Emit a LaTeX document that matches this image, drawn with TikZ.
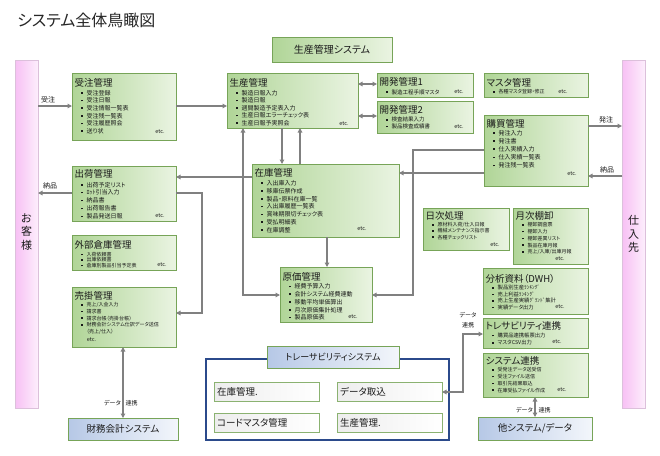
\documentclass[tikz,border=0pt]{standalone}
\usepackage{fontspec}
\setmainfont{Noto Sans CJK JP}[RawFeature=+palt]
\usetikzlibrary{arrows.meta,fit,shadows}
\definecolor{gL}{HTML}{B0D597}
\definecolor{gR}{HTML}{EAF4E2}
\definecolor{gB}{HTML}{77A458}
\definecolor{bL}{HTML}{B6C8E6}
\definecolor{bR}{HTML}{F3F6FB}
\definecolor{pL}{HTML}{F7C0F4}
\definecolor{pR}{HTML}{FDEEFC}
\definecolor{pB}{HTML}{DCC0DB}
\definecolor{navy}{HTML}{2B4A8B}
\definecolor{ag}{HTML}{808080}
\definecolor{tx}{HTML}{1A1A1A}
\newcommand\bl{\makebox[5.5pt][l]{\rule[\dimexpr0.38em-0.8pt\relax]{1.6pt}{1.6pt}}}
% name, corner1, corner2, title, title offset, item style, item offset, items
\newcommand\gb[8]{%
  \node[gbox, fit={(#2)(#3)}] (#1) {};
  \node[ttl] (#1T) at ([xshift=2.5pt,yshift=-#5pt]#1.north west) {#4};
  \node[#6] (#1I) at ([xshift=9pt,yshift=-#7pt]#1.north west) {#8};
}
\begin{document}
\begin{tikzpicture}[x=1pt,y=-1pt,
  gbox/.style={draw=gB, line width=0.7pt, left color=gL, right color=gR, inner sep=0pt, outer sep=0pt,
    drop shadow={shadow xshift=1.3pt, shadow yshift=-1.3pt, opacity=0.35}},
  bbox/.style={gbox, left color=bL, right color=bR},
  wbox/.style={gbox, left color=black!7, right color=white, draw=gB!85},
  pbox/.style={draw=pB, line width=0.6pt, left color=pL, right color=pR, inner sep=0pt, outer sep=0pt,
    drop shadow={shadow xshift=1.3pt, shadow yshift=-1.3pt, opacity=0.25}},
  tgroup/.style={draw=navy, line width=1.3pt, fill=white, inner sep=0pt, outer sep=0pt},
  ttl/.style={anchor=north west, inner sep=0pt, font=\fontsize{9.5}{11}\selectfont, text=tx},
  itm/.style={anchor=north west, inner sep=0pt, align=left, text=tx},
  etcn/.style={inner sep=0pt, font=\fontsize{5.5}{6}\selectfont, text=tx},
  lbl/.style={inner sep=0pt, font=\fontsize{7}{8}\selectfont, text=tx},
  lbs/.style={inner sep=0pt, font=\fontsize{6}{10}\selectfont, text=tx},
  ctext/.style={inner sep=0pt, text=tx},
  arr/.style={draw=ag, line width=1.2pt, -{Triangle[length=4.5pt,width=4.5pt]}},
  darr/.style={draw=ag, line width=1.2pt, {Triangle[length=4.5pt,width=4.5pt]}-{Triangle[length=4.5pt,width=4.5pt]}}
]
\fill[white] (0,0) rectangle (660,455);
\useasboundingbox (0,0) rectangle (660,455);

\node[anchor=west, inner sep=0pt, font=\fontsize{16}{18}\selectfont, text=black!85] (title) at (17,20) {システム全体鳥瞰図};

% side bars
\node[pbox, fit={(15,60)(38,408)}] (pinkL) {};
\node[ctext, align=center, font=\fontsize{11}{13.5}\selectfont] (pinkLT) at (26.5,232) {お\\客\\様};
\node[pbox, fit={(622,60)(645,408)}] (pinkR) {};
\node[ctext, align=center, font=\fontsize{11}{13.5}\selectfont] (pinkRT) at (633.5,234) {仕\\入\\先};

% top system box
\node[gbox, fit={(272,37)(392,62)}] (sys) {};
\node[ctext, font=\fontsize{10}{12}\selectfont] (sysT) at (sys.center) {生産管理システム};

\gb{juchu}{72,73}{176,140}{受注管理}{5.5}{itm,font=\fontsize{6}{7.7}\selectfont}{16.8}{\bl 受注登録\\\bl 受注日報\\\bl 受注情報一覧表\\\bl 受注残一覧表\\\bl 受注履歴照会\\\bl 送り状}
\node[etcn] (juchuE) at (160,132) {etc.};

\gb{seisan}{227,73}{358,128}{生産管理}{5.5}{itm,font=\fontsize{6}{7.5}\selectfont}{17.2}{\bl 製造日報入力\\\bl 製造日報\\\bl 週間製造予定表入力\\\bl 生産日報エラーチェック表\\\bl 生産日報予実照会}
\node[etcn] (seisanE) at (344,124) {etc.};

\gb{kaihatsuA}{377,73}{473,97}{開発管理1}{4.5}{itm,font=\fontsize{5.5}{6.7}\selectfont}{16.4}{\bl 製造工程手順マスタ}
\node[etcn] (kaihatsuAE) at (459,92) {etc.};

\gb{kaihatsuB}{377,101}{473,133}{開発管理2}{4.3}{itm,font=\fontsize{5.5}{6.7}\selectfont}{16.0}{\bl 検査結果入力\\\bl 製品検査成績書}
\node[etcn] (kaihatsuBE) at (459,127) {etc.};

\gb{master}{484,73}{588,97}{マスタ管理}{5}{itm,font=\fontsize{5}{6.5}\selectfont}{16.5}{\bl 各種マスタ登録・修正}
\node[etcn] (masterE) at (563,92) {etc.};

\gb{kobai}{484,115}{588,186}{購買管理}{4.3}{itm,font=\fontsize{6}{8.2}\selectfont}{14.8}{\bl 発注入力\\\bl 発注書\\\bl 仕入実績入力\\\bl 仕入実績一覧表\\\bl 発注残一覧表}
\node[etcn] (kobaiE) at (572,174) {etc.};

\gb{zaiko}{252,164}{399,237}{在庫管理}{4.3}{itm,font=\fontsize{6}{7.8}\selectfont}{16.2}{\bl 入出庫入力\\\bl 移庫伝票作成\\\bl 製品・原料在庫一覧\\\bl 入出庫履歴一覧表\\\bl 賞味期限切チェック表\\\bl 受払明細表\\\bl 在庫調整}
\node[etcn] (zaikoE) at (362,229) {etc.};

\gb{shukka}{72,166}{176,221}{出荷管理}{3.5}{itm,font=\fontsize{6}{7.9}\selectfont}{15.8}{\bl 出荷予定リスト\\\bl ﾛｯﾄ引当入力\\\bl 納品書\\\bl 出荷報告書\\\bl 製品発送日報}
\node[etcn] (shukkaE) at (160,216) {etc.};

\gb{gaibu}{72,235}{176,270}{外部倉庫管理}{5}{itm,font=\fontsize{5}{5.6}\selectfont}{16.9}{\bl 入荷依頼書\\\bl 出庫依頼書\\\bl 倉庫別製品引当予定表}
\node[etcn] (gaibuE) at (162,265) {etc.};

\gb{urikake}{72,287}{176,347}{売掛管理}{4}{itm,font=\fontsize{5}{6.7}\selectfont}{15.2}{\bl 売上/入金入力\\\bl 請求書\\\bl 請求台帳（売掛台帳）\\\bl 財務会計システム仕訳データ送信\\\hspace*{5.5pt}（売上/仕入）}
\node[etcn] (urikakeE) at (91.5,339.5) {etc.};

\gb{genka}{280,267}{372,322}{原価管理}{5}{itm,font=\fontsize{6}{7.8}\selectfont}{16.5}{\bl 経費予算入力\\\bl 会計システム経費連動\\\bl 移動平均単価算出\\\bl 月次原価集計処理\\\bl 製品原価表}
\node[etcn] (genkaE) at (353,317) {etc.};

\gb{nichiji}{423,208}{509,250}{日次処理}{3}{itm,font=\fontsize{5}{6.2}\selectfont}{14.2}{\bl 原材料入荷/仕入日報\\\bl 機械メンテナンス指示書\\\bl 各種チェックリスト}
\node[etcn] (nichijiE) at (495,245) {etc.};

\gb{getsuji}{513,208}{588,264}{月次棚卸}{3}{itm,font=\fontsize{5}{6.8}\selectfont}{14.2}{\bl 棚卸調査票\\\bl 棚卸入力\\\bl 棚卸差異リスト\\\bl 製品在庫月報\\\bl 売上/入庫/出庫月報}
\node[etcn] (getsujiE) at (560,259) {etc.};

\gb{bunseki}{483,268}{588,314}{分析資料（DWH）}{6}{itm,font=\fontsize{5.3}{6.5}\selectfont}{17.1}{\bl 製品別生産ﾗﾝｷﾝｸﾞ\\\bl 売上利益ﾗﾝｷﾝｸﾞ\\\bl 売上生産実績ｸﾞﾗﾝﾄﾞ集計\\\bl 実績データ出力}
\node[etcn] (bunsekiE) at (560,307) {etc.};

\gb{torerenkei}{483,318}{588,348}{トレサビリティ連携}{3.7}{itm,font=\fontsize{5.3}{7.3}\selectfont}{14.8}{\bl 購買品連携帳票出力\\\bl マスタCSV出力}
\node[etcn] (torerenkeiE) at (557,342) {etc.};

\gb{syslink}{483,353}{588,397}{システム連携}{3}{itm,font=\fontsize{5}{6.8}\selectfont}{14.2}{\bl 受発注データ送受信\\\bl 受注ファイル送信\\\bl 取引先結果取込\\\bl 在庫受払ファイル作成}
\node[etcn] (syslinkE) at (562,390) {etc.};

% external systems
\node[bbox, fit={(478,417)(592,440)}] (tasys) {};
\node[ctext, font=\fontsize{9.5}{11}\selectfont] (tasysT) at (tasys.center) {他システム/データ};
\node[bbox, fit={(68,418)(178,440)}] (zaimu) {};
\node[ctext, font=\fontsize{9.5}{11}\selectfont] (zaimuT) at (zaimu.center) {財務会計システム};

% traceability system
\node[tgroup, fit={(206,359)(449,440)}] (tgrp) {};
\node[bbox, fit={(267,346)(399,368)}] (ttab) {};
\node[ctext, font=\fontsize{9}{11}\selectfont] (ttabT) at (ttab.center) {トレーサビリティシステム};
\node[wbox, fit={(214,382)(319,401)}] (tA) {};
\node[ctext, anchor=west, font=\fontsize{9.5}{11}\selectfont] (tAT) at ([xshift=3pt]tA.west) {在庫管理.};
\node[wbox, fit={(337,382)(442,401)}] (tB) {};
\node[ctext, anchor=west, font=\fontsize{9.5}{11}\selectfont] (tBT) at ([xshift=3pt]tB.west) {データ取込};
\node[wbox, fit={(214,413)(319,432)}] (tC) {};
\node[ctext, anchor=west, font=\fontsize{9.5}{11}\selectfont] (tCT) at ([xshift=3pt]tC.west) {コードマスタ管理};
\node[wbox, fit={(337,413)(442,432)}] (tD) {};
\node[ctext, anchor=west, font=\fontsize{9.5}{11}\selectfont] (tDT) at ([xshift=3pt]tD.west) {生産管理.};

% connectors
\draw[arr] (pinkL.east |- 0,106) -- (juchu.west |- 0,106);
\node[lbl] (lJuchu) at (48,99.5) {受注};
\draw[arr] (juchu.east |- 0,106) -- (seisan.west |- 0,106);
\draw[darr] (seisan.east |- 0,84) -- (kaihatsuA.west |- 0,84);
\draw[darr] (seisan.east |- 0,116) -- (kaihatsuB.west |- 0,116);
\draw[arr] (seisan.south -| 282,0) -- (zaiko.north -| 282,0);
\draw[arr] (zaiko.north -| 300,0) -- (seisan.south -| 300,0);
\draw[darr] (genka.west |- 0,295) -| (seisan.south -| 243,0);
\draw[arr] (zaiko.west |- 0,177) -- (shukka.east |- 0,177);
\coordinate (bendA) at (202,193);
\draw[arr] (shukka.east |- 0,193) -- (bendA) |- (urikake.east |- 0,313);
\draw[arr] (shukka.west |- 0,193) -- (pinkL.east |- 0,193);
\node[lbl] (lNohinL) at (50,186) {納品};
\draw[arr] (kobai.east |- 0,126) -- (pinkR.west |- 0,126);
\node[lbl] (lHatchu) at (606,119.5) {発注};
\draw[arr] (pinkR.west |- 0,176) -- (kobai.east |- 0,176);
\node[lbl] (lNohinR) at (607,169.5) {納品};
\draw[arr] (kobai.west |- 0,173) -- (zaiko.east |- 0,173);
\coordinate (bendB) at (413,150);
\draw[arr] (kobai.west |- 0,150) -- (bendB) |- (genka.east |- 0,295);
\draw[arr] (zaiko.south -| 327,0) -- (genka.north -| 327,0);
\draw[darr] (urikake.south -| 123,0) -- (zaimu.north -| 123,0);
\node[lbs, anchor=east] (lD1a) at (121,403) {データ};
\node[lbs, anchor=west] (lD1b) at (125.5,403) {連携};
\draw[darr] (syslink.south -| 535,0) -- (tasys.north -| 535,0);
\node[lbs, anchor=east] (lD2a) at (533,410) {データ};
\node[lbs, anchor=west] (lD2b) at (538.5,410) {連携};
\coordinate (bendC) at (463,334);
\draw[darr] (torerenkei.west |- 0,334) -- (bendC) |- (tB.east |- 0,392);
\node[lbs, align=center] (lD3) at (468,320) {データ\\連携};
\end{tikzpicture}
\end{document}
